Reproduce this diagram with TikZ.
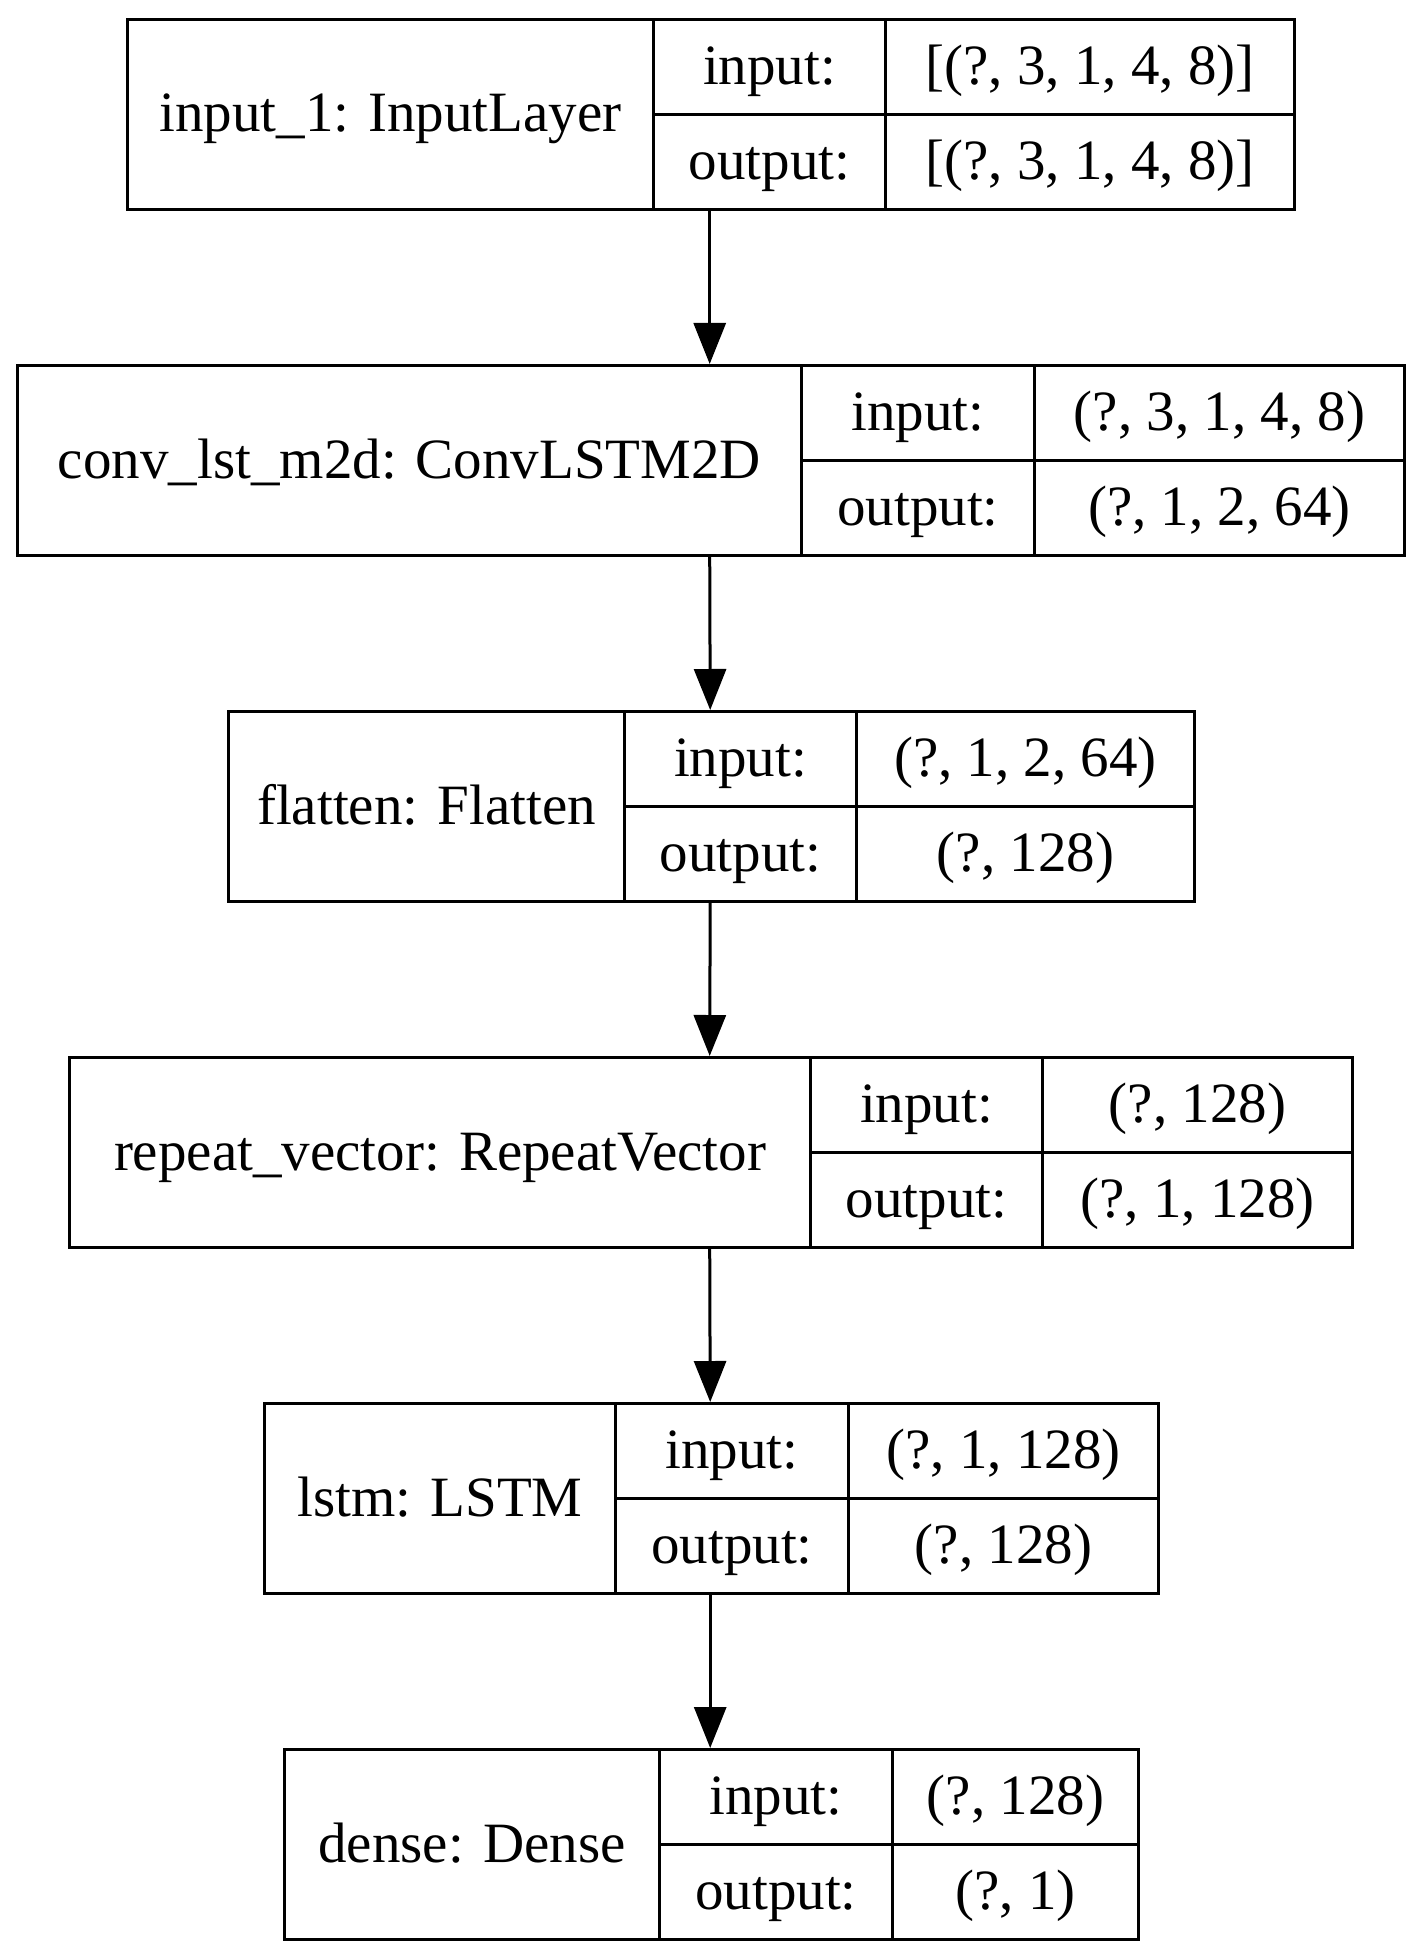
\documentclass[tikz,border=0pt]{standalone}
\usepackage{fontspec}
\setmainfont{Liberation Serif}
\usetikzlibrary{arrows.meta}
\tikzset{
  cell/.style={draw, line width=3pt, inner sep=0pt, anchor=north west,
    text height=35pt, text depth=0pt, minimum height=95pt},
  outerbox/.style={inner sep=0pt, anchor=north west, minimum height=190pt},
  flow/.style={line width=3pt, -{Triangle[length=41pt,width=32pt]}}
}
% #1 name, #2 L, #3 D1, #4 D2, #5 R, #6 T, #7 label, #8 in, #9 out
\newcommand\layerbox[9]{%
  \node[outerbox, minimum width={(#5-#2)*1pt}] (#1) at (#2,#6) {};
  \node[cell, minimum width={(#3-#2)*1pt}, minimum height=190pt] (#1-name) at (#2,#6) {#7};
  \node[cell, minimum width={(#4-#3)*1pt}] (#1-ink) at (#3,#6) {input:};
  \node[cell, minimum width={(#5-#4)*1pt}] (#1-inv) at (#4,#6) {#8};
  \node[cell, minimum width={(#4-#3)*1pt}] (#1-outk) at ({#3},{#6+95}) {output:};
  \node[cell, minimum width={(#5-#4)*1pt}] (#1-outv) at ({#4},{#6+95}) {#9};
}
\begin{document}
\begin{tikzpicture}[x=1pt, y=-1pt, font=\fontsize{57}{68}\selectfont]
\useasboundingbox (0,0) rectangle (1421,1958);
\layerbox{b1}{126}{652}{884}{1293}{18}{input\_1: InputLayer}{[(?, 3, 1, 4, 8)]}{[(?, 3, 1, 4, 8)]}
\layerbox{b2}{16}{800}{1033}{1403}{364}{conv\_lst\_m2d: ConvLSTM2D}{(?, 3, 1, 4, 8)}{(?, 1, 2, 64)}
\layerbox{b3}{227}{623}{855}{1193}{710}{flatten: Flatten}{(?, 1, 2, 64)}{(?, 128)}
\layerbox{b4}{68}{809}{1041}{1351}{1056}{repeat\_vector: RepeatVector}{(?, 128)}{(?, 1, 128)}
\layerbox{b5}{263}{614}{847}{1157}{1402}{lstm: LSTM}{(?, 1, 128)}{(?, 128)}
\layerbox{b6}{283}{658}{891}{1137}{1748}{dense: Dense}{(?, 128)}{(?, 1)}
\draw[flow] (b1.south) -- (b2.north);
\draw[flow] (b2.south) -- (b3.north);
\draw[flow] (b3.south) -- (b4.north);
\draw[flow] (b4.south) -- (b5.north);
\draw[flow] (b5.south) -- (b6.north);
\end{tikzpicture}
\end{document}
